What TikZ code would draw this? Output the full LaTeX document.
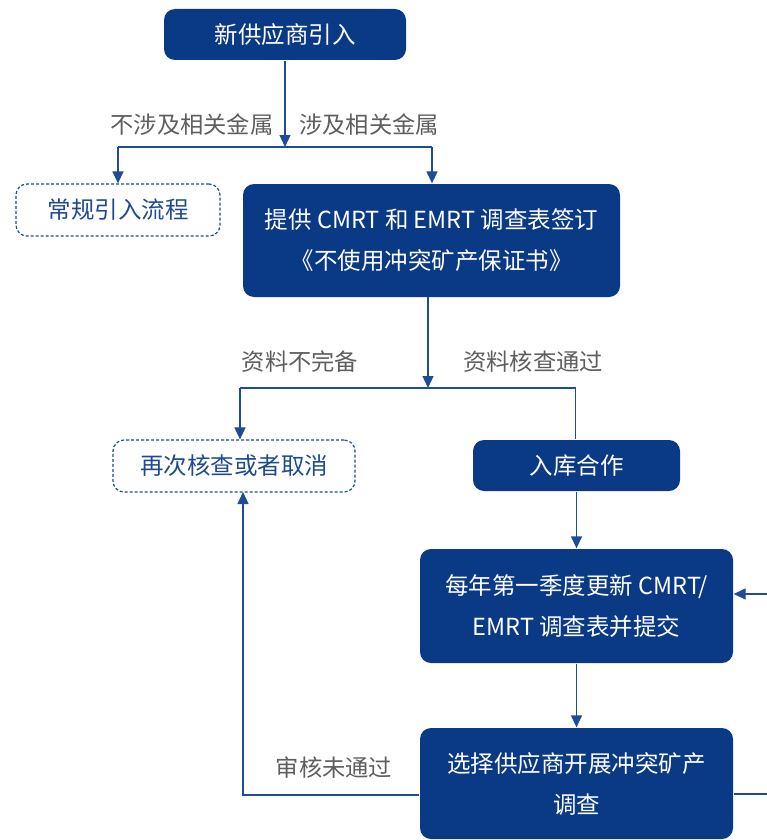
\documentclass[tikz,border=0pt]{standalone}
\usepackage{fontspec}
\setmainfont{Noto Sans CJK SC}
\usetikzlibrary{arrows.meta, calc, positioning}
\definecolor{supBlue}{HTML}{0A3A86}
\definecolor{supLine}{HTML}{1F4C97}
\definecolor{supText}{HTML}{1E4A92}
\definecolor{supGrey}{HTML}{5E5E5E}
\tikzset{
  % thin blue connectors with solid triangle tips
  every picture/.append style = {line width=1.3pt, >={Triangle[length=12pt, width=11pt]}},
  flow/.style     = {->, supLine},
  link/.style     = {supLine},
  procbox/.style  = {rounded corners=11pt, fill=supBlue, text=white, align=center,
                     inner sep=0pt, font=\fontsize{23.5}{41}\selectfont},
  altbox/.style   = {rounded corners=11pt, draw=supLine, dash pattern=on 3pt off 2pt,
                     line width=1.2pt, text=supText, inner sep=0pt,
                     font=\fontsize{23.5}{41}\selectfont},
  lbl/.style      = {text=supGrey, inner sep=0pt, font=\fontsize{23.3}{30}\selectfont},
}
\begin{document}
\begin{tikzpicture}[x=1pt, y=-1pt]
  \clip (0,0) rectangle (767,840);
  % boxes
  \node[procbox, minimum width=242pt, minimum height=51pt] (intro) at (285,34.5) {新供应商引入};
  \node[altbox, minimum width=204pt, minimum height=52pt] (normal) at (118,210) {常规引入流程};
  \node[procbox, minimum width=377pt, minimum height=113pt] (sign) at (431.5,240.5)
    {提供 CMRT 和 EMRT 调查表签订\\《不使用冲突矿产保证书》};
  \node[altbox, minimum width=242pt, minimum height=52pt] (recheck) at (234,466) {再次核查或者取消};
  \node[procbox, minimum width=207pt, minimum height=51pt] (stock) at (576.5,465.5) {入库合作};
  \node[procbox, minimum width=313pt, minimum height=114pt] (update) at (576.5,606)
    {每年第一季度更新 CMRT/\\EMRT 调查表并提交};
  \node[procbox, minimum width=313pt, minimum height=111pt] (survey) at (576.5,783.5)
    {选择供应商开展冲突矿产\\调查};
  % first split
  \coordinate (split1) at (285,147);
  \draw[flow] (intro.south) -- (split1);
  \draw[link] (split1) -| (432,147) coordinate (splitR);
  \draw[link] (split1) -| (118,147) coordinate (splitL);
  \draw[flow] (splitL) -- (normal.north);
  \draw[flow] (splitR) -- (splitR |- sign.north);
  \node[lbl] (nometal) at (192,125) {不涉及相关金属};
  \node[lbl] (metal) at (369,125) {涉及相关金属};
  % second split
  \coordinate (split2) at (428,388);
  \draw[flow] (428,297) -- (split2);
  \draw[link] (240,388) coordinate (split2L) -- (575.5,388) coordinate (split2R);
  \draw[flow] (split2L) -- (split2L |- recheck.north);
  \draw[link] (split2R) -- (split2R |- stock.north);
  \node[lbl] (incomplete) at (300,362) {资料不完备};
  \node[lbl] (passed) at (533,362) {资料核查通过};
  % main chain
  \draw[flow] (stock.south) -- (update.north);
  \draw[flow] (update.south) -- (survey.north);
  % loops
  \draw[flow] (survey.east |- 0,794) -- (800,794) -- (800,594) -- (update.east |- 0,594);
  \draw[flow] (survey.west |- 0,795) -| (243,492);
  \node[lbl] (failed) at (334,768) {审核未通过};
\end{tikzpicture}
\end{document}
